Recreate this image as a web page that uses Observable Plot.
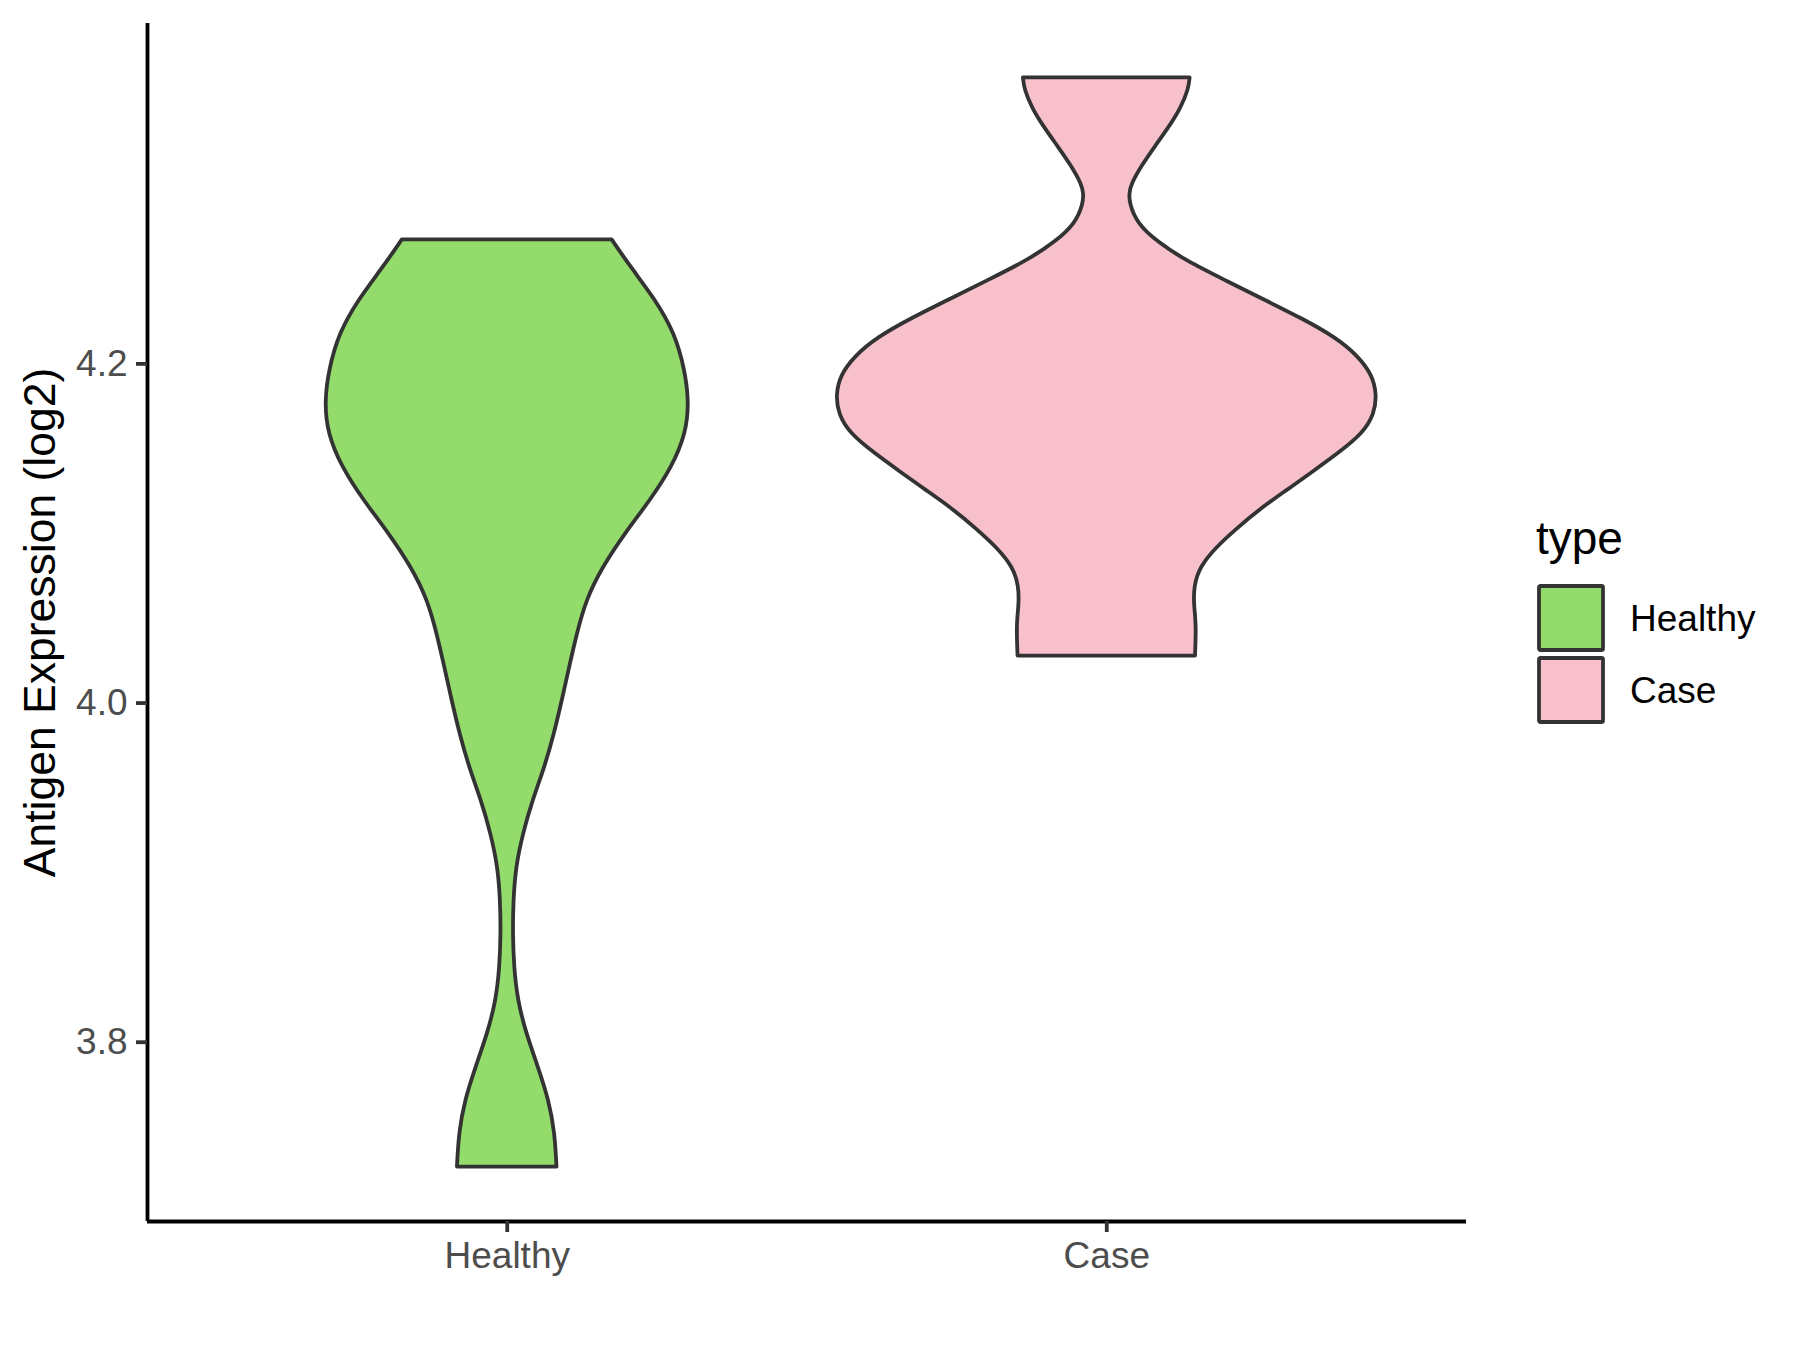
<!DOCTYPE html>
<html>
<head>
<meta charset="utf-8">
<script src="https://cdn.jsdelivr.net/npm/d3@7"></script>
<script src="https://cdn.jsdelivr.net/npm/@observablehq/plot@0.6"></script>
<style>
  html, body { margin: 0; padding: 0; background: #ffffff; }
  #wrap { position: relative; width: 1800px; height: 1350px; font-family: "Liberation Sans", Arial, sans-serif; }
  #legend { position: absolute; left: 0; top: 0; }
</style>
</head>
<body>
<div id="wrap"></div>
<script>
// ---- data ----
const categories = ["Healthy", "Case"];
const fillColors = ["#93DB6B", "#F7C0CB"];
const yTicks = [3.8, 4.0, 4.2];
const yTitle = "Antigen Expression (log2)";
const legendTitle = "type";

// violin outline: value (log2) and half-width (in category units)
const healthyValue = [4.2731, 4.2566, 4.2371, 4.2177, 4.1976, 4.1782, 4.1588, 4.1387, 4.1193, 4.0999,
  4.0798, 4.0604, 4.0409, 4.0209, 4.0015, 3.9820, 3.9620, 3.9426, 3.9231, 3.9031,
  3.8837, 3.8642, 3.8442, 3.8247, 3.8053, 3.7853, 3.7658, 3.7464, 3.7264];
const healthyHalfWidth = [0.175, 0.207, 0.249, 0.280, 0.296, 0.304, 0.299, 0.275, 0.239, 0.197,
  0.159, 0.132, 0.117, 0.104, 0.092, 0.079, 0.063, 0.043, 0.027, 0.015,
  0.011, 0.010, 0.012, 0.018, 0.032, 0.052, 0.070, 0.080, 0.083];

const caseValue = [4.3686, 4.3618, 4.3506, 4.3393, 4.3280, 4.3168, 4.3055, 4.2999, 4.2942, 4.2829,
  4.2717, 4.2604, 4.2491, 4.2378, 4.2266, 4.2153, 4.2040, 4.1928, 4.1815, 4.1702,
  4.1589, 4.1477, 4.1364, 4.1251, 4.1139, 4.1026, 4.0913, 4.0801, 4.0687, 4.0575,
  4.0462, 4.0277];
const caseHalfWidth = [0.139, 0.137, 0.124, 0.104, 0.081, 0.059, 0.041, 0.038, 0.039, 0.051,
  0.085, 0.134, 0.198, 0.262, 0.326, 0.383, 0.421, 0.444, 0.451, 0.447,
  0.428, 0.389, 0.345, 0.300, 0.255, 0.217, 0.182, 0.156, 0.146, 0.146,
  0.150, 0.148];

// ---- build table ----
const rows = [];
[[healthyValue, healthyHalfWidth], [caseValue, caseHalfWidth]].forEach(([vals, ws], i) => {
  vals.forEach((v, j) => rows.push({type: categories[i], pos: i + 1, value: v, w: ws[j]}));
});
const [lo, hi] = d3.extent(rows, d => d.value);
const pad = (hi - lo) * 0.05;
const yDomain = [lo - pad, hi + pad];
const xDomain = [1 - 0.6, categories.length + 0.6];

const font = "'Liberation Sans', Arial, sans-serif";

const chart = Plot.plot({
  width: 1800,
  height: 1350,
  marginLeft: 147,
  marginRight: 334,
  marginTop: 23,
  marginBottom: 129,
  style: {fontFamily: font, background: "white", overflow: "visible"},
  x: {domain: xDomain, axis: null},
  y: {domain: yDomain, axis: null},
  color: {domain: categories, range: fillColors},
  marks: [
    Plot.areaX(rows, {
      y: "value",
      x1: d => d.pos - d.w,
      x2: d => d.pos + d.w,
      z: "type",
      fill: "type",
      stroke: "#333333",
      strokeWidth: 3.8,
      strokeLinejoin: "round",
      curve: "basis"
    }),
    Plot.ruleX([xDomain[0]], {stroke: "#000000", strokeWidth: 3.8}),
    Plot.ruleY([yDomain[0]], {stroke: "#000000", strokeWidth: 3.8}),
    Plot.axisY({
      ticks: yTicks,
      tickFormat: d3.format(".1f"),
      tickSize: 11,
      tickPadding: 9,
      fontSize: 37,
      stroke: "#333333",
      strokeWidth: 3.8,
      fill: "#4D4D4D",
      label: null
    }),
    Plot.axisY({
      ticks: [],
      label: yTitle,
      labelArrow: "none",
      labelAnchor: "center",
      labelOffset: 124,
      fontSize: 44.5,
      dy: 6,
      fill: "#000000"
    }),
    Plot.axisX({
      ticks: d3.range(1, categories.length + 1),
      tickFormat: d => categories[d - 1],
      tickSize: 11,
      tickPadding: 9,
      fontSize: 37,
      stroke: "#333333",
      strokeWidth: 3.8,
      fill: "#4D4D4D",
      label: null
    })
  ]
});

const wrap = document.getElementById("wrap");
wrap.appendChild(chart);

// ---- legend (right side) ----
const lg = d3.select(wrap).append("svg")
  .attr("id", "legend")
  .attr("width", 1800)
  .attr("height", 1350)
  .style("pointer-events", "none")
  .style("font-family", font);

lg.append("text")
  .attr("x", 1536)
  .attr("y", 554)
  .attr("font-size", 46)
  .attr("fill", "#000")
  .text(legendTitle);

const keyG = lg.selectAll("g.key").data(categories).join("g").attr("class", "key")
  .attr("transform", (d, i) => `translate(1539, ${586 + i * 72})`);
keyG.append("rect")
  .attr("width", 64).attr("height", 64).attr("rx", 1.5)
  .attr("fill", (d, i) => fillColors[i])
  .attr("stroke", "#333333").attr("stroke-width", 3.8);
keyG.append("text")
  .attr("x", 91).attr("y", 32).attr("dy", "0.36em")
  .attr("font-size", 37).attr("fill", "#000")
  .text(d => d);
</script>
</body>
</html>
